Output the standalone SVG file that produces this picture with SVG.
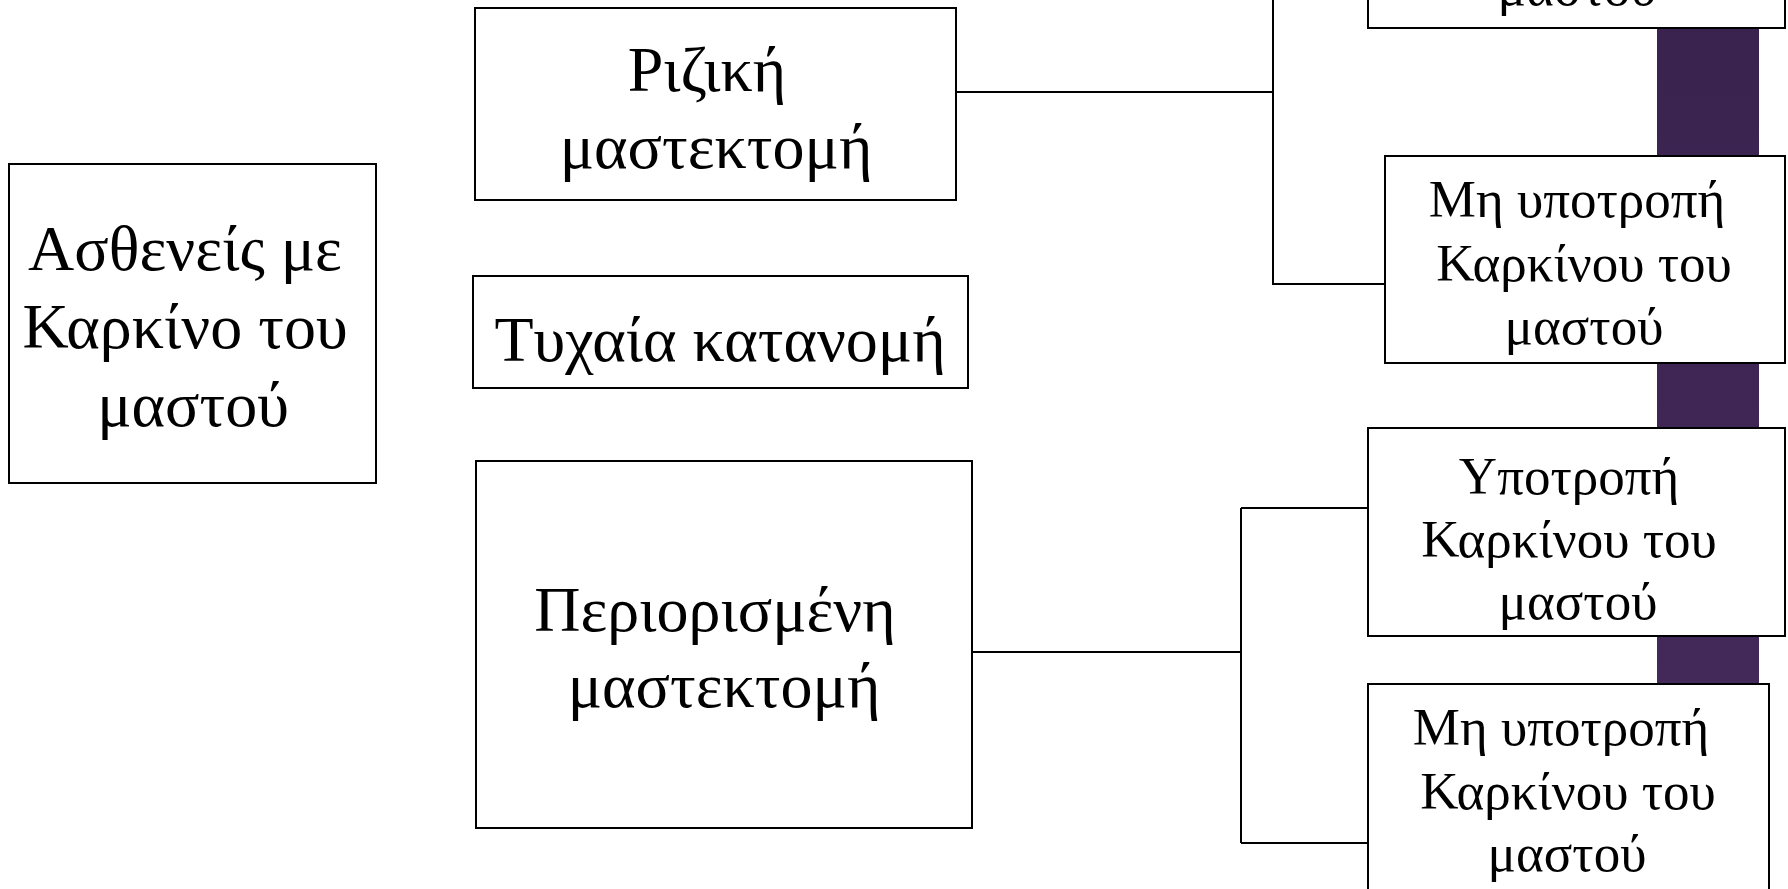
<svg xmlns="http://www.w3.org/2000/svg" width="1788" height="889" viewBox="0 0 1788 889">
<defs>
<linearGradient id="bar" x1="0" y1="0" x2="0" y2="1">
<stop offset="0" stop-color="#39234e"/>
<stop offset="1" stop-color="#462a5d"/>
</linearGradient>
<style>
.box{fill:#ffffff;stroke:#000000;stroke-width:2}
.ln{fill:none;stroke:#000000;stroke-width:2}
.t{font-family:"Liberation Serif","Times New Roman",serif;fill:#000000;text-anchor:middle}
.big{font-size:64px}
.sm{font-size:53px}
</style>
</defs>
<rect width="1788" height="889" fill="#ffffff"/>
<rect x="1657" y="0" width="102" height="889" fill="url(#bar)"/>
<g id="connectors">
<path class="ln" d="M956,92 H1273 M1273,0 V284 H1385"/>
<path class="ln" d="M969,652 H1241 M1241,508 V843 M1241,508 H1368 M1241,843 H1368"/>
</g>
<g id="patients">
<rect class="box" x="9" y="164" width="367" height="319"/>
<text class="t big" x="185" y="270">Ασθενείς με</text>
<text class="t big" x="185" y="348">Καρκίνο του</text>
<text class="t big" x="193" y="426">μαστού</text>
</g>
<g id="radical">
<rect class="box" x="475" y="8" width="481" height="192"/>
<text class="t big" x="707" y="91">Ριζική</text>
<text class="t big" x="716" y="168">μαστεκτομή</text>
</g>
<g id="random">
<rect class="box" x="473" y="276" width="495" height="112"/>
<text class="t big" x="720" y="361">Τυχαία κατανομή</text>
</g>
<g id="limited">
<rect class="box" x="476" y="461" width="496" height="367"/>
<text class="t big" x="715" y="631">Περιορισμένη</text>
<text class="t big" x="724" y="707">μαστεκτομή</text>
</g>
<g id="recur-top">
<rect class="box" x="1368" y="-40" width="417" height="68"/>
<text class="t sm" x="1577" y="5">μαστού</text>
</g>
<g id="norecur-top">
<rect class="box" x="1385" y="156" width="400" height="207"/>
<text class="t sm" x="1577" y="217">Μη υποτροπή</text>
<text class="t sm" x="1584" y="281">Καρκίνου του</text>
<text class="t sm" x="1584" y="344">μαστού</text>
</g>
<g id="recur-bottom">
<rect class="box" x="1368" y="428" width="417" height="208"/>
<text class="t sm" x="1569" y="494">Υποτροπή</text>
<text class="t sm" x="1569" y="557">Καρκίνου του</text>
<text class="t sm" x="1578" y="619">μαστού</text>
</g>
<g id="norecur-bottom">
<rect class="box" x="1368" y="684" width="401" height="240"/>
<text class="t sm" x="1561" y="745">Μη υποτροπή</text>
<text class="t sm" x="1568" y="809">Καρκίνου του</text>
<text class="t sm" x="1567" y="871">μαστού</text>
</g>
</svg>
